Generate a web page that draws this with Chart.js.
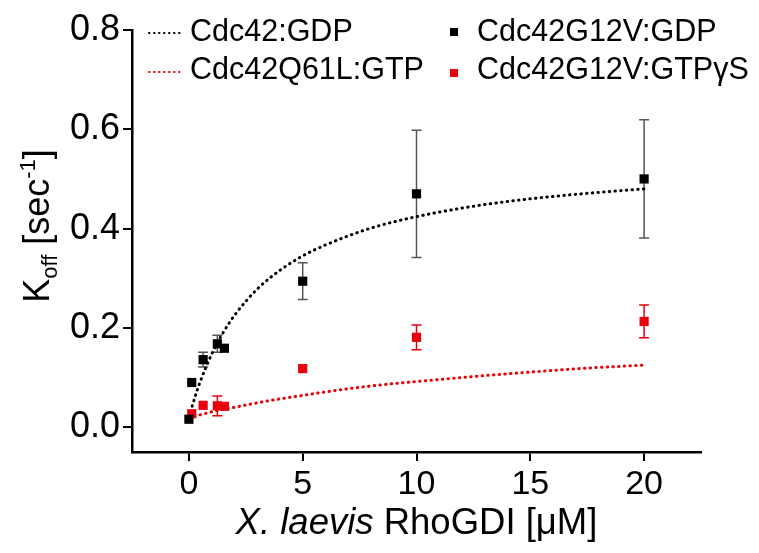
<!DOCTYPE html>
<html>
<head>
<meta charset="utf-8">
<script src="https://cdn.jsdelivr.net/npm/chart.js@4"></script>
<style>
  body { margin: 0; background: #fff; }
</style>
</head>
<body>
<canvas id="koffChart" width="759" height="553"></canvas>
<script>
const gdpX = [0, 0.125, 0.625, 1.25, 1.56, 5, 10, 20];
const gdpY = [0.016, 0.090, 0.136, 0.168, 0.159, 0.294, 0.470, 0.500];
const gdpErr = [0, 0, 0.015, 0.017, 0, 0.037, 0.128, 0.119];

const gtpX = [0.125, 0.625, 1.25, 1.56, 5, 10, 20];
const gtpY = [0.027, 0.044, 0.043, 0.042, 0.118, 0.181, 0.213];
const gtpErr = [0, 0, 0.020, 0, 0, 0.025, 0.033];

// dotted fit curves
const fitX = [0, 0.25, 0.5, 1, 1.5, 2, 3, 4, 5, 6, 8, 10, 12.5, 15, 17.5, 20];
const fitGdp = [0.020, 0.058, 0.092, 0.147, 0.190, 0.225, 0.278, 0.316, 0.345, 0.367, 0.401, 0.424, 0.445, 0.460, 0.471, 0.480];
const fitGtp = [0.020, 0.022, 0.025, 0.031, 0.036, 0.040, 0.049, 0.057, 0.064, 0.071, 0.083, 0.092, 0.102, 0.111, 0.119, 0.125];

const xTicks = [0, 5, 10, 15, 20];
const yTicks = [0, 0.2, 0.4, 0.6, 0.8];

const RED = '#e8000b';
const FONT = '"Liberation Sans", Arial, sans-serif';

function pts(xs, ys) {
    return xs.map((x, i) => ({ x: x, y: ys[i] }));
}

// error bars drawn from the scales
const errorBars = {
    id: 'errorBars',
    beforeDatasetsDraw(chart) {
        const ctx = chart.ctx;
        const xs = chart.scales.x, ys = chart.scales.y;
        const sets = [[gdpX, gdpY, gdpErr, '#555'], [gtpX, gtpY, gtpErr, RED]];
        ctx.save();
        ctx.lineWidth = 1.5;
        sets.forEach(([xv, yv, ev, col]) => {
            ctx.strokeStyle = col;
            xv.forEach((x, i) => {
                if (!ev[i]) return;
                const px = xs.getPixelForValue(x);
                const top = ys.getPixelForValue(yv[i] + ev[i]);
                const bot = ys.getPixelForValue(yv[i] - ev[i]);
                ctx.beginPath();
                ctx.moveTo(px, top); ctx.lineTo(px, bot);
                ctx.moveTo(px - 5, top); ctx.lineTo(px + 5, top);
                ctx.moveTo(px - 5, bot); ctx.lineTo(px + 5, bot);
                ctx.stroke();
            });
        });
        ctx.restore();
    }
};

// axis titles and the legend
const decorations = {
    id: 'decorations',
    afterDraw(chart) {
        const ctx = chart.ctx;
        const area = chart.chartArea;
        ctx.save();
        ctx.fillStyle = '#000';
        ctx.textBaseline = 'alphabetic';

        // x title
        const part1 = 'X. laevis ', part2 = 'RhoGDI [\u03bcM]';
        ctx.font = 'italic 36.5px ' + FONT;
        const w1 = ctx.measureText(part1).width;
        ctx.font = '36.5px ' + FONT;
        const w2 = ctx.measureText(part2).width;
        let sx = (area.left + area.right) / 2 - (w1 + w2) / 2;
        ctx.font = 'italic 36.5px ' + FONT;
        ctx.fillText(part1, sx, 534);
        ctx.font = '36.5px ' + FONT;
        ctx.fillText(part2, sx + w1, 534);

        // y title, rotated, with sub/superscript
        const pieces = [
            ['K', 36, 0], ['off', 22, 8], [' [sec', 36, 0], ['-1', 22, -14], [']', 36, 0]
        ];
        let total = 0;
        pieces.forEach(p => { ctx.font = p[1] + 'px ' + FONT; p.push(ctx.measureText(p[0]).width); total += p[3]; });
        ctx.translate(49, 226);
        ctx.rotate(-Math.PI / 2);
        let cx = -total / 2;
        pieces.forEach(p => {
            ctx.font = p[1] + 'px ' + FONT;
            ctx.fillText(p[0], cx, p[2]);
            cx += p[3];
        });
        ctx.setTransform(1, 0, 0, 1, 0, 0);

        // legend
        ctx.font = '30.5px ' + FONT;
        const lineRows = [['Cdc42:GDP', '#000', 33, 41], ['Cdc42Q61L:GTP', RED, 72, 79]];
        lineRows.forEach(([label, col, ly, by]) => {
            ctx.strokeStyle = col;
            ctx.lineWidth = 2;
            ctx.lineCap = 'round';
            ctx.setLineDash([0.5, 4.5]);
            ctx.beginPath();
            ctx.moveTo(149, ly); ctx.lineTo(180, ly);
            ctx.stroke();
            ctx.setLineDash([]);
            ctx.fillText(label, 190, by);
        });
        const boxRows = [['Cdc42G12V:GDP', '#000', 32, 41], ['Cdc42G12V:GTP\u03b3S', RED, 73, 79]];
        boxRows.forEach(([label, col, sy, by]) => {
            ctx.fillStyle = col;
            ctx.fillRect(450, sy - 4, 8, 8);
            ctx.fillStyle = '#000';
            ctx.fillText(label, 477, by);
        });
        ctx.restore();
    }
};

const ctx = document.getElementById('koffChart').getContext('2d');
const koffChart = new Chart(ctx, {
    type: 'scatter',
    data: {
        datasets: [
            {
                label: 'Cdc42G12V:GDP',
                data: pts(gdpX, gdpY),
                pointStyle: 'rect',
                pointRadius: 6.5,
                backgroundColor: '#000',
                borderColor: '#000',
                borderWidth: 0
            },
            {
                label: 'Cdc42G12V:GTP\u03b3S',
                data: pts(gtpX, gtpY),
                pointStyle: 'rect',
                pointRadius: 6.5,
                backgroundColor: RED,
                borderColor: RED,
                borderWidth: 0
            },
            {
                label: 'Cdc42:GDP',
                data: pts(fitX, fitGdp),
                showLine: true,
                pointRadius: 0,
                borderColor: '#000',
                borderWidth: 3,
                borderDash: [0.5, 5.2],
                borderCapStyle: 'round',
                cubicInterpolationMode: 'monotone'
            },
            {
                label: 'Cdc42Q61L:GTP',
                data: pts(fitX, fitGtp),
                showLine: true,
                pointRadius: 0,
                borderColor: RED,
                borderWidth: 3,
                borderDash: [0.5, 5.2],
                borderCapStyle: 'round',
                cubicInterpolationMode: 'monotone'
            }
        ]
    },
    options: {
        responsive: false,
        animation: false,
        layout: { padding: { left: 0, top: 30, right: 58, bottom: 0 } },
        plugins: {
            legend: { display: false },
            tooltip: { enabled: false }
        },
        scales: {
            x: {
                type: 'linear',
                min: -2.5,
                max: 22.5,
                afterFit(scale) { scale.height = 101; },
                afterBuildTicks(scale) { scale.ticks = xTicks.map(v => ({ value: v })); },
                border: { display: true, color: '#000', width: 2.5 },
                grid: { display: true, drawOnChartArea: false, drawTicks: true, tickLength: 9, color: '#000', lineWidth: 2 },
                ticks: {
                    color: '#000',
                    padding: 3,
                    maxRotation: 0,
                    font: { family: FONT, size: 34 },
                    callback: v => String(v)
                }
            },
            y: {
                min: -0.05,
                max: 0.8,
                afterFit(scale) { scale.width = 132; },
                afterBuildTicks(scale) { scale.ticks = yTicks.map(v => ({ value: v })); },
                border: { display: true, color: '#000', width: 2.5 },
                grid: { display: true, drawOnChartArea: false, drawTicks: true, tickLength: 9, color: '#000', lineWidth: 2 },
                ticks: {
                    color: '#000',
                    padding: 3,
                    font: { family: FONT, size: 36 },
                    callback: v => v.toFixed(1)
                }
            }
        }
    },
    plugins: [errorBars, decorations]
});
</script>
</body>
</html>
